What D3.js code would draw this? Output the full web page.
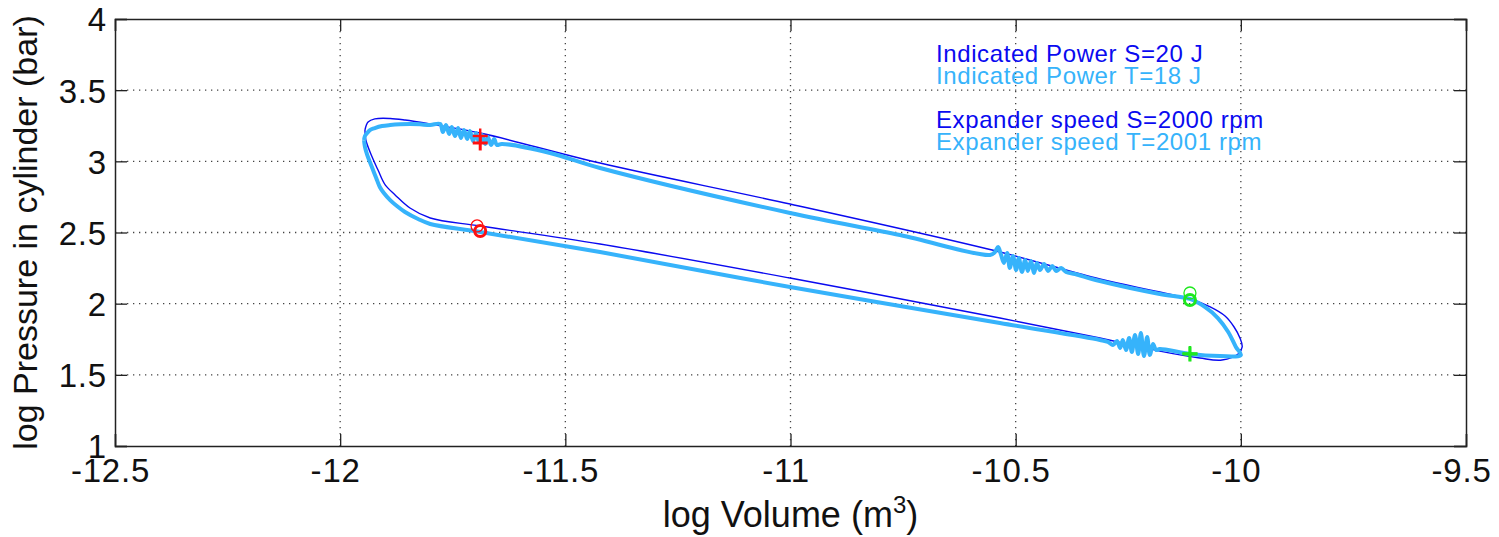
<!DOCTYPE html>
<html>
<head>
<meta charset="utf-8">
<script src="https://cdn.jsdelivr.net/npm/d3@7"></script>
<style>
body { margin: 0; background: #fff; }
text { font-family: "Liberation Sans", Arial, sans-serif; }
</style>
</head>
<body>
<script>
/* data */

var xTicks = [-12.5, -12, -11.5, -11, -10.5, -10, -9.5];
var yTicks = [1, 1.5, 2, 2.5, 3, 3.5, 4];
var xTickLabels = ["-12.5", "-12", "-11.5", "-11", "-10.5", "-10", "-9.5"];
var yTickLabels = ["1", "1.5", "2", "2.5", "3", "3.5", "4"];

// simulated cycle S (thin blue)
var volS = [-11.945, -11.938, -11.923, -11.889, -11.856, -11.800, -11.689, -11.423, -11.001, -10.535,
	-10.313, -10.180, -10.106, -10.068, -10.035, -10.015, -10.002, -9.997, -10.006, -10.042,
	-10.091, -10.180, -10.313, -10.535, -11.001, -11.423, -11.689, -11.800, -11.845, -11.878,
	-11.900, -11.916, -11.929, -11.943, -11.945];
var presS = [3.220, 3.276, 3.298, 3.301, 3.290, 3.262, 3.199, 2.988, 2.700, 2.363,
	2.173, 2.082, 2.026, 1.977, 1.913, 1.836, 1.759, 1.696, 1.646, 1.604,
	1.618, 1.667, 1.759, 1.899, 2.180, 2.419, 2.546, 2.602, 2.672, 2.764,
	2.834, 2.939, 3.030, 3.150, 3.220];

// measured cycle T (thick light blue), with the noisy bursts
var volT = [-11.947, -11.945, -11.940, -11.934, -11.923, -11.907, -11.889, -11.867, -11.845, -11.823,
	-11.800, -11.778, -11.772, -11.765, -11.758, -11.752, -11.745, -11.738, -11.732, -11.725,
	-11.718, -11.712, -11.705, -11.698, -11.692, -11.685, -11.678, -11.672, -11.665, -11.658,
	-11.652, -11.641, -11.534, -11.423, -11.001, -10.757, -10.557, -10.546, -10.539, -10.533,
	-10.526, -10.519, -10.513, -10.506, -10.499, -10.493, -10.486, -10.479, -10.473, -10.466,
	-10.459, -10.453, -10.446, -10.437, -10.428, -10.419, -10.410, -10.399, -10.388, -10.368,
	-10.313, -10.180, -10.113, -10.080, -10.051, -10.028, -10.011, -10.000, -10.046, -10.113,
	-10.180, -10.188, -10.195, -10.202, -10.208, -10.215, -10.222, -10.228, -10.235, -10.242,
	-10.248, -10.255, -10.262, -10.268, -10.275, -10.284, -10.295, -10.313, -10.535, -11.001,
	-11.423, -11.689, -11.800, -11.827, -11.856, -11.874, -11.889, -11.903, -11.912, -11.920,
	-11.927, -11.934, -11.940, -11.945, -11.947];
var presT = [3.150, 3.178, 3.199, 3.220, 3.234, 3.248, 3.255, 3.260, 3.262, 3.260,
	3.255, 3.262, 3.206, 3.255, 3.192, 3.241, 3.178, 3.234, 3.164, 3.220,
	3.157, 3.213, 3.143, 3.199, 3.136, 3.185, 3.122, 3.171, 3.115, 3.157,
	3.115, 3.122, 3.059, 2.953, 2.637, 2.482, 2.342, 2.363, 2.398, 2.349,
	2.286, 2.356, 2.251, 2.335, 2.237, 2.321, 2.223, 2.307, 2.230, 2.300,
	2.216, 2.286, 2.237, 2.279, 2.230, 2.265, 2.230, 2.251, 2.223, 2.208,
	2.159, 2.068, 2.033, 1.977, 1.899, 1.801, 1.696, 1.639, 1.632, 1.646,
	1.682, 1.674, 1.717, 1.639, 1.766, 1.632, 1.794, 1.646, 1.780, 1.660,
	1.759, 1.674, 1.745, 1.689, 1.738, 1.710, 1.731, 1.745, 1.864, 2.117,
	2.363, 2.504, 2.560, 2.595, 2.644, 2.686, 2.728, 2.778, 2.820, 2.883,
	2.939, 2.995, 3.045, 3.101, 3.150];

// valve events, index 0 = S, index 1 = T
var redPlusVol = [-11.689, -11.689], redPlusPres = [3.178, 3.129];
var redCircVol = [-11.696, -11.689], redCircPres = [2.546, 2.511];
var greenCircVol = [-10.113, -10.113], greenCircPres = [2.075, 2.026];
var greenPlusVol = [-10.113, -10.113], greenPlusPres = [1.650, 1.646];

var legendS = ["Indicated Power S=20 J", "Expander speed S=2000 rpm"];
var legendT = ["Indicated Power T=18 J", "Expander speed T=2001 rpm"];

/* drawing */

var width = 1499, height = 537;
var mLeft = 115, mRight = 1466, mTop = 19, mBottom = 446;
var blue = "#0a0af0", cyan = "#36b3fb", red = "#ff1010", green = "#1ee81e";

var svg = d3.select("body").append("svg")
	.attr("width", width)
	.attr("height", height);

var x = d3.scaleLinear().domain([-12.5, -9.5]).range([mLeft, mRight]);
var y = d3.scaleLinear().domain([1, 4]).range([mBottom, mTop]);

// grid
svg.append("g").selectAll("line").data(xTicks.slice(1, -1)).enter().append("line")
	.attr("x1", d => x(d)).attr("x2", d => x(d))
	.attr("y1", mTop).attr("y2", mBottom)
	.attr("stroke", "#444").attr("stroke-width", 1.3).attr("stroke-dasharray", "1.3,4.7");
svg.append("g").selectAll("line").data(yTicks.slice(1, -1)).enter().append("line")
	.attr("y1", d => y(d)).attr("y2", d => y(d))
	.attr("x1", mLeft).attr("x2", mRight)
	.attr("stroke", "#444").attr("stroke-width", 1.3).attr("stroke-dasharray", "1.3,4.7");

// axes (inward ticks)
var tl = 12;
var axB = svg.append("g").attr("transform", "translate(0," + mBottom + ")")
	.call(d3.axisBottom(x).tickValues(xTicks).tickSize(-tl).tickFormat((d, i) => xTickLabels[i]));
var axT = svg.append("g").attr("transform", "translate(0," + mTop + ")")
	.call(d3.axisTop(x).tickValues(xTicks).tickSize(-tl).tickFormat(""));
var axL = svg.append("g").attr("transform", "translate(" + mLeft + ",0)")
	.call(d3.axisLeft(y).tickValues(yTicks).tickSize(-tl).tickFormat((d, i) => yTickLabels[i]));
var axR = svg.append("g").attr("transform", "translate(" + mRight + ",0)")
	.call(d3.axisRight(y).tickValues(yTicks).tickSize(-tl).tickFormat(""));

[axB, axT, axL, axR].forEach(function(a) {
	a.select(".domain").attr("stroke", "#222").attr("stroke-width", 1.5);
	a.selectAll(".tick line").attr("stroke", "#222").attr("stroke-width", 1.3);
});
axB.selectAll(".tick text")
	.attr("font-size", 33).attr("fill", "#111").attr("letter-spacing", 0.8)
	.attr("font-family", "Liberation Sans, Arial, sans-serif")
	.attr("y", 0).attr("dy", 0)
	.attr("transform", "translate(-5,36)");
axL.selectAll(".tick text")
	.attr("font-size", 33).attr("fill", "#111").attr("letter-spacing", 0.8)
	.attr("font-family", "Liberation Sans, Arial, sans-serif")
	.attr("x", -8).attr("dy", "0.36em");

// cycles
var line = d3.line().curve(d3.curveCatmullRom.alpha(0.5));

svg.append("path")
	.attr("d", line(volS.map((v, i) => [x(v), y(presS[i])])))
	.attr("fill", "none").attr("stroke", blue).attr("stroke-width", 1.4);

svg.append("path")
	.attr("d", line(volT.map((v, i) => [x(v), y(presT[i])])))
	.attr("fill", "none").attr("stroke", cyan).attr("stroke-width", 4)
	.attr("stroke-linejoin", "round");

// markers
function drawPlus(vols, press, color) {
	vols.forEach(function(v, i) {
		var cx = x(v), cy = y(press[i]), h = 7.5;
		var g = svg.append("g").attr("stroke", color).attr("stroke-width", i == 0 ? 2.4 : 3);
		g.append("line").attr("x1", cx - h).attr("x2", cx + h).attr("y1", cy).attr("y2", cy);
		g.append("line").attr("x1", cx).attr("x2", cx).attr("y1", cy - h).attr("y2", cy + h);
	});
}
function drawCirc(vols, press, color) {
	vols.forEach(function(v, i) {
		svg.append("circle")
			.attr("cx", x(v)).attr("cy", y(press[i])).attr("r", i == 0 ? 6 : 5.5)
			.attr("fill", "none").attr("stroke", color).attr("stroke-width", i == 0 ? 1.3 : 3);
	});
}
drawPlus(redPlusVol, redPlusPres, red);
drawCirc(redCircVol, redCircPres, red);
drawCirc(greenCircVol, greenCircPres, green);
drawPlus(greenPlusVol, greenPlusPres, green);

// legend text
var leg = svg.append("g").attr("font-size", 24).attr("letter-spacing", 0.6);
var rows = [[legendS[0], blue, 62], [legendT[0], cyan, 83.5], [legendS[1], blue, 128], [legendT[1], cyan, 149.5]];
rows.forEach(function(r) {
	leg.append("text").attr("x", 936).attr("y", r[2]).attr("fill", r[1]).text(r[0]);
});

// axis titles
var xl = svg.append("text")
	.attr("x", (mLeft + mRight) / 2).attr("y", 527)
	.attr("text-anchor", "middle").attr("font-size", 36).attr("fill", "#111");
xl.append("tspan").text("log Volume (m");
xl.append("tspan").attr("dy", -14).attr("font-size", 24).text("3");
xl.append("tspan").attr("dy", 14).text(")");

svg.append("text")
	.attr("transform", "translate(37," + (mTop + mBottom) / 2 + ") rotate(-90)")
	.attr("text-anchor", "middle").attr("font-size", 34).attr("fill", "#111")
	.text("log Pressure in cylinder (bar)");
</script>
</body>
</html>
